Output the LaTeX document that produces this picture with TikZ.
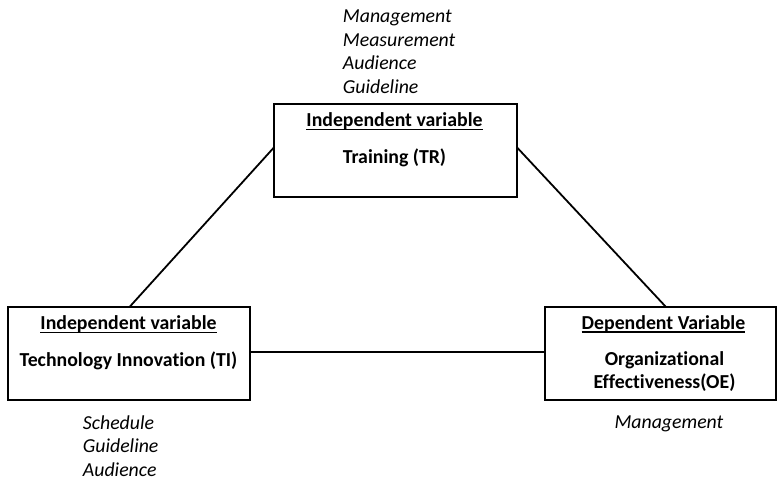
\documentclass[tikz,border=0pt]{standalone}
\usepackage{fontspec}
\setmainfont{Carlito}[Ligatures={NoCommon}]
\newcommand\ulword[1]{\setbox0\hbox{#1}\rlap{\vrule height -2pt depth 3.3pt width \wd0}\box0}
\begin{document}
\begin{tikzpicture}[x=1pt,y=-1pt,
  varbox/.style={draw, line width=1.1pt, minimum width=#1, minimum height=93pt, inner sep=0pt},
  link/.style={line width=1.8pt},
  boxtext/.style={anchor=base, inner sep=0pt, font=\fontsize{19.8}{23.5}\selectfont\bfseries, align=center},
  notes/.style={anchor=base west, inner sep=0pt, font=\fontsize{19.8}{23.5}\selectfont\itshape, align=left}]
\useasboundingbox (0,0) rectangle (777,481);

% the three variable boxes
\node[varbox=243pt] (TR) at (395.5,150.5) {};
\node[varbox=242pt] (TI) at (129,353.5) {};
\node[varbox=231pt] (OE) at (660.5,353.5) {};

% labels inside the boxes
\node[boxtext] (trh) at (394.5,126.7) {\ulword{Independent variable}};
\node[boxtext] (trn) at (394.5,163.3) {Training (TR)};
\node[boxtext] (tih) at (128.5,330) {\ulword{Independent variable}};
\node[boxtext] (tin) at (128.5,366) {Technology Innovation (TI)};
\node[boxtext] (oeh) at (663.5,329.3) {\ulword{Dependent Variable}};
\node[boxtext] (oen1) at (664.5,365) {Organizational};
\node[boxtext] (oen2) at (664.5,388.3) {Effectiveness(OE)};

% dimension notes
\node[notes] (trn1) at (342.7,22.7) {Management};
\node[notes] (trn2) at (342.7,46.2) {Measurement};
\node[notes] (trn3) at (342.7,69.7) {Audience};
\node[notes] (trn4) at (342.7,93.2) {Guideline};
\node[notes] (tin1) at (82.7,429.3) {Schedule};
\node[notes] (tin2) at (82.7,452.8) {Guideline};
\node[notes] (tin3) at (82.7,476.3) {Audience};
\node[notes] (oem1) at (614.3,428.3) {Management};

% connectors
\draw[link] ([yshift=2.5pt]TR.west) -- ([xshift=1pt]TI.north);
\draw[link] ([yshift=2.5pt]TR.east) -- ([xshift=5pt]OE.north);
\draw[link] ([yshift=1.5pt]TI.east) -- ([yshift=1.5pt]OE.west);
\end{tikzpicture}
\end{document}
